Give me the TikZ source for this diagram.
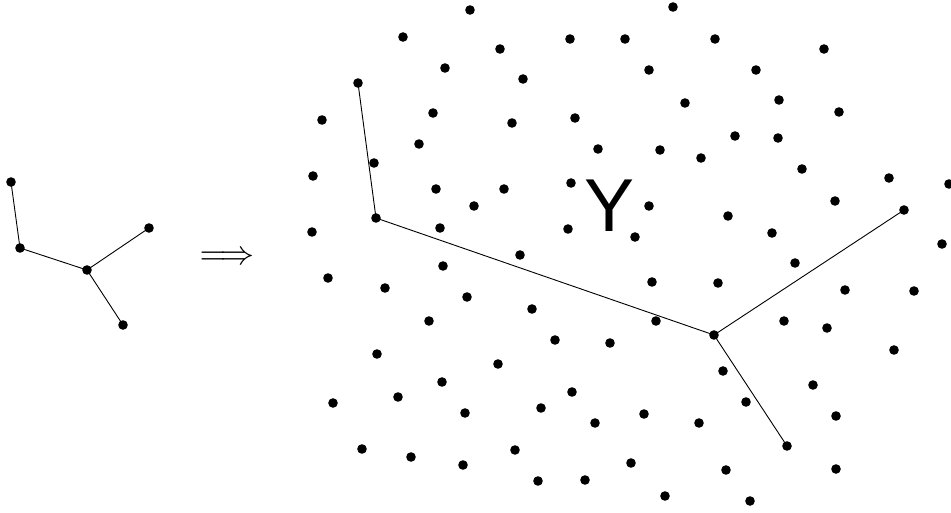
\documentclass[tikz,border=0pt]{standalone}
\usepackage{fontspec}
\newfontfamily\helv{Liberation Sans}
\begin{document}
\begin{tikzpicture}[x=1pt,y=-1pt,
  dot/.style={circle,fill=black,inner sep=0pt,minimum size=9.6pt},
  edge/.style={draw=black,line width=0.9pt}]
\useasboundingbox (0,0) rectangle (951,512);
% left tree
\node[dot] (la) at (11,182) {};
\node[dot] (lb) at (20,248) {};
\node[dot] (lc) at (87,270) {};
\node[dot] (ld) at (149,228) {};
\node[dot] (le) at (123,325) {};
\draw[edge] (la.center) -- (lb.center) -- (lc.center) -- (ld.center);
\draw[edge] (lc.center) -- (le.center);
% implication arrow
\node[inner sep=0pt] (arr) at (227,258) {\scalebox{3.4}{$\Longrightarrow$}};
% right tree
\node[dot] (ra) at (358,83) {};
\node[dot] (rb) at (376,218) {};
\node[dot] (rc) at (714,335) {};
\node[dot] (rd) at (904,210) {};
\node[dot] (re) at (787,446) {};
\draw[edge] (ra.center) -- (rb.center) -- (rc.center) -- (rd.center);
\draw[edge] (rc.center) -- (re.center);
% scattered points
\foreach \px/\py [count=\i] in {470/10,403/37,500/49,445/68,433/113,322/120,512/123,419/144,
  374/163,313/176,436/189,504/189,474/206,312/232,440/228,520/255,673/7,570/39,625/39,715/39,
  649/70,523/79,685/103,575/118,598/149,660/150,701/158,571/183,649/206,568/229,635/237,
  824/49,756/70,779/100,839/112,735/136,778/138,802/169,889/178,949/184,835/201,728/216,
  772/233,942/244,795/263,443/266,328/278,385/288,467/297,429/321,377/354,498/364,442/382,
  333/403,398/397,465/413,362/449,411/457,463/465,515/450,652/282,718/283,532/309,656/321,
  555/340,610/343,572/392,541/408,595/423,644/414,699/423,631/463,538/481,585/480,665/496,
  845/290,914/291,784/321,827/328,894/350,723/371,813/385,746/402,836/416,726/470,836/469,750/501}
  \node[dot] (p\i) at (\px,\py) {};
% label
\node (ylab) at (610,206) {\helv\fontsize{75}{75}\selectfont Y};
\end{tikzpicture}
\end{document}
